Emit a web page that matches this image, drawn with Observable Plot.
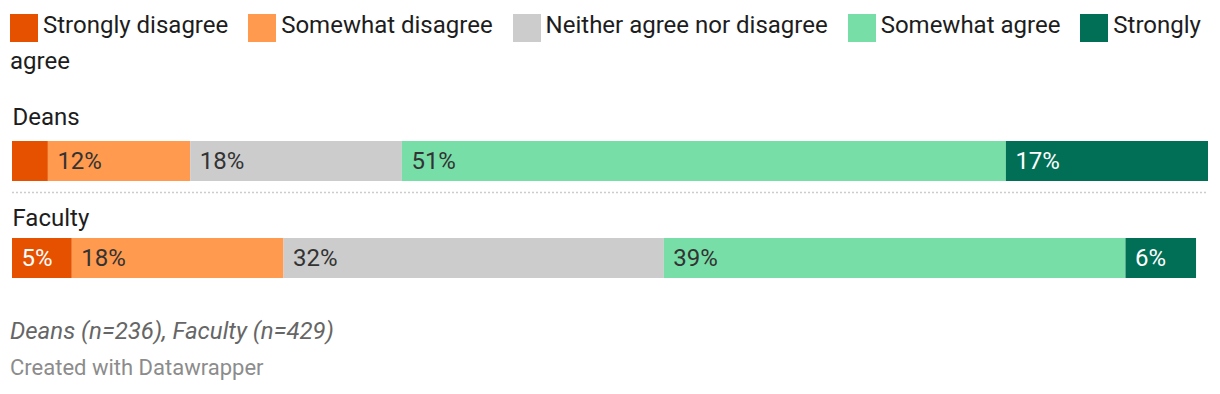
<!DOCTYPE html>
<html>
<head>
<meta charset="utf-8">
<script src="https://cdn.jsdelivr.net/npm/d3@7"></script>
<script src="https://cdn.jsdelivr.net/npm/@observablehq/plot@0.6"></script>
<style>
  html, body { margin: 0; padding: 0; background: #fff; }
  body { width: 1220px; font-family: Roboto, "Noto Sans", sans-serif; }
  #legend { box-sizing: border-box; height: 90px; padding: 7px 0 0 10px; width: 1215px;
            font-size: 24px; line-height: 36px; color: #1d1d1d; }
  .item { margin-right: 14px; }
  .sw { display: inline-block; width: 28px; height: 28px; vertical-align: -9px; margin-right: 5px; }
  #chart svg { display: block; }
  #notes { padding: 23px 0 0 10px; }
  .note { font-size: 24px; line-height: 37px; color: #666; font-style: italic; }
  .credit { font-size: 22px; line-height: 36px; color: #8c8c8c; }
</style>
</head>
<body>
<div id="legend"></div>
<div id="chart"></div>
<div id="notes">
  <div class="note">Deans (n=236), Faculty (n=429)</div>
  <div class="credit">Created with Datawrapper</div>
</div>
<script>
const categories = ["Deans", "Faculty"];
const responses = ["Strongly disagree", "Somewhat disagree", "Neither agree nor disagree", "Somewhat agree", "Strongly agree"];
const colors = ["#e65100", "#ff9a4f", "#cccccc", "#77dea8", "#006f56"];
const deansValues = [3.0, 11.9, 17.7, 50.5, 16.9];
const facultyValues = [5.0, 17.7, 31.8, 38.6, 5.9];
const darkResponses = ["Strongly disagree", "Strongly agree"];

// legend
const legend = document.getElementById("legend");
responses.forEach((r, i) => {
  const item = document.createElement("span");
  item.className = "item";
  const sw = document.createElement("span");
  sw.className = "sw";
  sw.style.background = colors[i];
  item.appendChild(sw);
  item.appendChild(document.createTextNode(r));
  legend.appendChild(item);
  legend.appendChild(document.createTextNode(" "));
});

const seriesByCat = {Deans: deansValues, Faculty: facultyValues};
const rows = [];
for (const cat of categories) {
  const vals = seriesByCat[cat];
  const starts = [0, ...d3.cumsum(vals)];
  responses.forEach((r, i) => rows.push({cat, response: r, value: vals[i], start: starts[i]}));
}
const fmt = d => Math.round(d.value) + "%";
const showLabel = d => d.value >= 4;

const chart = Plot.plot({
  width: 1220,
  height: 200,
  marginLeft: 12, marginRight: 12, marginTop: 0, marginBottom: 0,
  style: {fontFamily: "Roboto, 'Noto Sans', sans-serif", background: "#fff"},
  x: {domain: [0, 100], axis: null},
  y: {domain: categories, range: [50, 188], paddingInner: 0.5918, paddingOuter: 0, axis: null},
  color: {domain: responses, range: colors},
  marks: [
    Plot.barX(rows, Plot.stackX({x: "value", y: "cat", fill: "response", order: responses})),
    Plot.ruleY(["Deans"], {x1: 0, x2: 100, dy: 31, stroke: "#cccccc", strokeWidth: 1.5, strokeDasharray: "2,2"}),
    Plot.text(rows, {filter: d => showLabel(d) && !darkResponses.includes(d.response), x: "start", y: "cat", text: fmt, dx: 9, textAnchor: "start", lineAnchor: "middle", fontSize: 24, fill: "#333333"}),
    Plot.text(rows, {filter: d => showLabel(d) && darkResponses.includes(d.response), x: "start", y: "cat", text: fmt, dx: 9, textAnchor: "start", lineAnchor: "middle", fontSize: 24, fill: "#ffffff"}),
    Plot.text(["Deans"], {x: 0, y: d => d, text: d => d, dy: -37, textAnchor: "start", lineAnchor: "bottom", fontSize: 24, fill: "#1d1d1d"}),
    Plot.text(["Faculty"], {x: 0, y: d => d, text: d => d, dy: -33, textAnchor: "start", lineAnchor: "bottom", fontSize: 24, fill: "#1d1d1d"})
  ]
});
document.getElementById("chart").appendChild(chart);
</script>
</body>
</html>
